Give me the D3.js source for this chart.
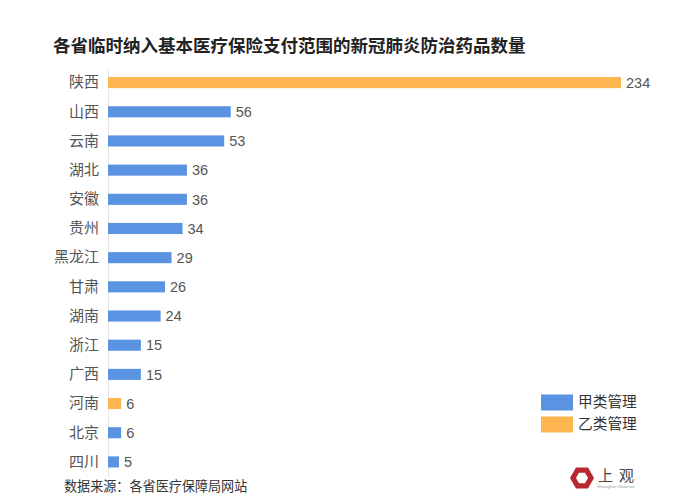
<!DOCTYPE html>
<html>
<head>
<meta charset="utf-8">
<script src="https://cdn.jsdelivr.net/npm/d3@7"></script>
<style>
	html, body { margin: 0; padding: 0; background: #fff; }
	text { font-family: "Noto Sans CJK SC", sans-serif; }
	.num { font-family: "Liberation Sans", sans-serif; }
</style>
</head>
<body>
<div id="chart"></div>
<script>
const provinces = ['陕西', '山西', '云南', '湖北', '安徽', '贵州', '黑龙江', '甘肃', '湖南', '浙江', '广西', '河南', '北京', '四川'];
const drugCounts = [234, 56, 53, 36, 36, 34, 29, 26, 24, 15, 15, 6, 6, 5];
const classes = ['乙', '甲', '甲', '甲', '甲', '甲', '甲', '甲', '甲', '甲', '甲', '乙', '甲', '甲'];
const legendKeys = ['甲', '乙'];
const legendLabels = ['甲类管理', '乙类管理'];
const titleText = '各省临时纳入基本医疗保险支付范围的新冠肺炎防治药品数量';
const sourceText = '数据来源：各省医疗保障局网站';

const width = 700;
const height = 500;
const color = d3.scaleOrdinal().domain(legendKeys).range(['#5b93e3', '#fdb54f']);

const $svg = d3.select('#chart').append('svg')
	.attr('width', width)
	.attr('height', height)
	.style('display', 'block');

const x = d3.scaleLinear().domain([0, 234]).range([108, 621]);
const y = d3.scaleBand().domain(provinces).range([68, 476.5]).paddingInner(0.62).paddingOuter(0.31);

$svg.append('text')
	.attr('x', 53)
	.attr('y', 52)
	.attr('font-size', 17.5)
	.attr('font-weight', 700)
	.attr('fill', '#222')
	.text(titleText);

// axis line on the left, labels only
const yAxis = d3.axisLeft(y).tickSize(0).tickPadding(9);
const $axis = $svg.append('g')
	.attr('transform', 'translate(108,0)')
	.call(yAxis);
$axis.select('.domain').attr('stroke', '#e8e8e8').attr('stroke-width', 1);
$axis.selectAll('text')
	.attr('font-size', 15)
	.attr('fill', '#555')
	.style('font-family', '"Noto Sans CJK SC", sans-serif');

const rows = provinces.map((d, i) => ({ name: d, value: drugCounts[i], type: classes[i] }));

$svg.append('g').selectAll('rect')
	.data(rows)
	.enter()
	.append('rect')
	.attr('x', x(0))
	.attr('y', d => y(d.name))
	.attr('width', d => x(d.value) - x(0))
	.attr('height', y.bandwidth())
	.attr('fill', d => color(d.type));

$svg.append('g').selectAll('text')
	.data(rows)
	.enter()
	.append('text')
	.attr('class', 'num')
	.attr('x', d => x(d.value) + 5)
	.attr('y', d => y(d.name) + y.bandwidth() / 2)
	.attr('dy', '0.36em')
	.attr('font-size', 14.5)
	.attr('fill', '#555')
	.text(d => d.value);

// legend
const $legend = $svg.append('g').selectAll('g')
	.data(legendKeys)
	.enter()
	.append('g')
	.attr('transform', (d, i) => `translate(541,${394.5 + i * 22})`);
$legend.append('rect')
	.attr('width', 32)
	.attr('height', 16)
	.attr('fill', d => color(d));
$legend.append('text')
	.attr('x', 37)
	.attr('y', 7)
	.attr('dy', '0.36em')
	.attr('font-size', 14.7)
	.attr('fill', '#333')
	.text((d, i) => legendLabels[i]);

$svg.append('text')
	.attr('x', 64)
	.attr('y', 491)
	.attr('font-size', 13.1)
	.attr('fill', '#333')
	.text(sourceText);

// logo: red hexagon ring + wordmark
const hexPoints = r => d3.range(6).map(i => {
	const a = i * Math.PI / 3;
	return [r * Math.cos(a), r * Math.sin(a)].join(',');
}).join(' ');
const $logo = $svg.append('g').attr('transform', 'translate(582,478)');
$logo.append('polygon').attr('points', hexPoints(12)).attr('fill', '#b8272f');
$logo.append('polygon').attr('points', hexPoints(6)).attr('fill', '#fff');
$svg.append('text')
	.attr('x', 598)
	.attr('y', 481)
	.attr('font-size', 15)
	.attr('letter-spacing', 6)
	.attr('fill', '#444')
	.text('上观');
$svg.append('text')
	.attr('class', 'num')
	.attr('x', 597)
	.attr('y', 488)
	.attr('font-size', 4.4)
	.attr('fill', '#999')
	.text('Shanghai Observer');
</script>
</body>
</html>
